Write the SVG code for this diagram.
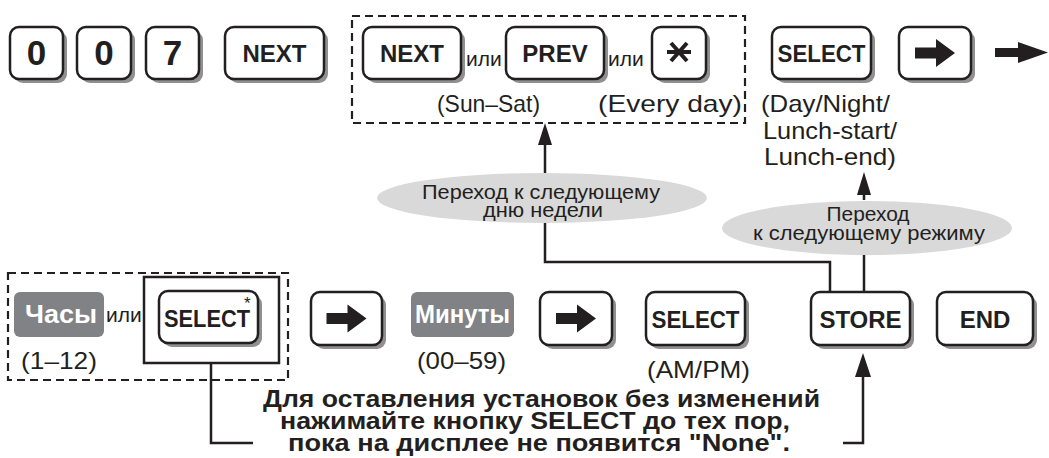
<svg xmlns="http://www.w3.org/2000/svg" width="1049" height="458" viewBox="0 0 1049 458">
<style>
.sh{fill:#909090}
.key{fill:#fff;stroke:#231f20;stroke-width:2.5}
.kt{font-family:"Liberation Sans",Arial,sans-serif;font-weight:bold;font-size:24px;fill:#231f20;text-anchor:middle}
.big{font-size:35px}
.lbl{font-family:"Liberation Sans",Arial,sans-serif;font-size:24px;fill:#231f20}
.ili{font-family:"Liberation Sans",Arial,sans-serif;font-size:21px;fill:#231f20}
.gbox{fill:#808285}
.gt{font-family:"Liberation Sans",Arial,sans-serif;font-weight:bold;font-size:25px;fill:#fff;text-anchor:middle}
.dash{fill:none;stroke:#231f20;stroke-width:2.2;stroke-dasharray:8 5}
.ln{fill:none;stroke:#231f20;stroke-width:2.5}
.ell{fill:#d9d9d9}
.et{font-family:"Liberation Sans",Arial,sans-serif;font-size:21px;fill:#231f20;text-anchor:middle}
.note{font-family:"Liberation Sans",Arial,sans-serif;font-weight:bold;font-size:24px;fill:#231f20;text-anchor:middle}
.ar{fill:#231f20}
</style>
<defs>
<g id="arrowIcon"><path class="ar" d="M-20,-5.5 H1 V-14 L20,0 L1,14 V5.5 H-20 Z"/></g>
</defs>

<!-- dashed grouping boxes -->
<g id="groups">
<rect class="dash" x="352" y="16" width="393" height="107"/>
<rect class="dash" x="8" y="273" width="280" height="107"/>
<rect class="ln" x="144" y="277" width="135" height="86"/>
</g>

<!-- connectors -->
<g id="connectors">
<path class="ln" d="M545,223 V262 H830 V292"/>
<path class="ln" d="M545,173 V140"/>
<path class="ar" d="M545,123 L538,145 L552,145 Z"/>
<path class="ln" d="M864,200 V190"/>
<path class="ar" d="M864,172 L857,195 L871,195 Z"/>
<path class="ln" d="M864,255 V292"/>
<path class="ln" d="M211,363 V443 H253"/>
<path class="ln" d="M843,443 H863 V372"/>
<path class="ar" d="M863,353 L855,377 L871,377 Z"/>
<path class="ar" d="M995,48 H1018 V42 L1048,52.5 L1018,63 V57 H995 Z"/>
</g>

<g id="k0a"><rect class="sh" x="14" y="31" width="53" height="52" rx="9"/><rect class="key" x="10" y="27" width="53" height="52" rx="9"/><text class="kt big" x="36.5" y="65">0</text></g>
<g id="k0b"><rect class="sh" x="81" y="31" width="54" height="52" rx="9"/><rect class="key" x="77" y="27" width="54" height="52" rx="9"/><text class="kt big" x="104" y="65">0</text></g>
<g id="k7"><rect class="sh" x="150" y="31" width="53" height="52" rx="9"/><rect class="key" x="146" y="27" width="53" height="52" rx="9"/><text class="kt big" x="172.5" y="65">7</text></g>
<g id="kNext1"><rect class="sh" x="229" y="31" width="99" height="52" rx="9"/><rect class="key" x="225" y="27" width="99" height="52" rx="9"/><text class="kt" x="274.5" y="62">NEXT</text></g>

<g id="kNext2"><rect class="sh" x="367" y="31" width="98" height="52" rx="9"/><rect class="key" x="363" y="27" width="98" height="52" rx="9"/><text class="kt" x="412" y="62">NEXT</text></g>
<text class="ili" x="466" y="66">или</text>
<g id="kPrev"><rect class="sh" x="510" y="31" width="98" height="52" rx="9"/><rect class="key" x="506" y="27" width="98" height="52" rx="9"/><text class="kt" x="555" y="62">PREV</text></g>
<text class="ili" x="608" y="66">или</text>
<g id="kStar"><rect class="sh" x="656" y="31" width="54" height="52" rx="9"/><rect class="key" x="652" y="27" width="54" height="52" rx="9"/>
<path d="M667,52 H691 M671,43 L687,61 M671,61 L687,43" stroke="#231f20" stroke-width="4" fill="none"/></g>
<text class="lbl" x="488.5" y="112" text-anchor="middle" textLength="103" lengthAdjust="spacingAndGlyphs">(Sun–Sat)</text>
<text class="lbl" x="670" y="112" text-anchor="middle" textLength="144" lengthAdjust="spacingAndGlyphs">(Every day)</text>

<g id="kSelect1"><rect class="sh" x="776" y="31" width="99" height="52" rx="9"/><rect class="key" x="772" y="27" width="99" height="52" rx="9"/><text class="kt" x="821.5" y="62" textLength="88" lengthAdjust="spacingAndGlyphs">SELECT</text></g>
<g id="kArrowTop"><rect class="sh" x="903" y="31" width="72" height="52" rx="9"/><rect class="key" x="899" y="27" width="72" height="52" rx="9"/><use href="#arrowIcon" x="935" y="53"/></g>
<g id="modeLabel">
<text class="lbl" x="761" y="112" textLength="129" lengthAdjust="spacingAndGlyphs">(Day/Night/</text>
<text class="lbl" x="830" y="138.5" text-anchor="middle" textLength="134" lengthAdjust="spacingAndGlyphs">Lunch-start/</text>
<text class="lbl" x="830" y="165" text-anchor="middle" textLength="132" lengthAdjust="spacingAndGlyphs">Lunch-end)</text>
</g>

<g id="ellDay"><ellipse class="ell" cx="542" cy="198" rx="165" ry="25"/><text class="et" x="541" y="199" textLength="238" lengthAdjust="spacingAndGlyphs">Переход к следующему</text><text class="et" x="543" y="217" textLength="120" lengthAdjust="spacingAndGlyphs">дню недели</text></g>
<g id="ellMode"><ellipse class="ell" cx="867" cy="228" rx="145" ry="27"/><text class="et" x="868" y="221" textLength="83" lengthAdjust="spacingAndGlyphs">Переход</text><text class="et" x="869" y="240" textLength="232" lengthAdjust="spacingAndGlyphs">к следующему режиму</text></g>

<g id="hours"><rect class="gbox" x="14" y="292" width="90" height="45" rx="6"/><text class="gt" x="61" y="323" textLength="72" lengthAdjust="spacingAndGlyphs">Часы</text></g>
<text class="ili" x="106" y="322">или</text>
<text class="lbl" x="21" y="369" textLength="76" lengthAdjust="spacingAndGlyphs">(1–12)</text>
<g id="kSelect2"><rect class="sh" x="163" y="295" width="99" height="52" rx="9"/><rect class="key" x="159" y="291" width="99" height="52" rx="9"/><text class="kt" x="207" y="327" textLength="86" lengthAdjust="spacingAndGlyphs">SELECT</text><text class="ili" x="244" y="309" style="font-size:17px">*</text></g>

<g id="kArrowB1"><rect class="sh" x="315" y="296" width="71" height="53" rx="9"/><rect class="key" x="311" y="292" width="71" height="53" rx="9"/><use href="#arrowIcon" x="346.5" y="318.5"/></g>
<g id="minutes"><rect class="gbox" x="411" y="292" width="103" height="45" rx="6"/><text class="gt" x="462.5" y="323" textLength="95" lengthAdjust="spacingAndGlyphs">Минуты</text></g>
<text class="lbl" x="461.5" y="369" text-anchor="middle" textLength="89" lengthAdjust="spacingAndGlyphs">(00–59)</text>
<g id="kArrowB2"><rect class="sh" x="544" y="296" width="72" height="53" rx="9"/><rect class="key" x="540" y="292" width="72" height="53" rx="9"/><use href="#arrowIcon" x="576" y="318.5"/></g>
<g id="kSelect3"><rect class="sh" x="650" y="296" width="99" height="53" rx="9"/><rect class="key" x="646" y="292" width="99" height="53" rx="9"/><text class="kt" x="695.5" y="328" textLength="88" lengthAdjust="spacingAndGlyphs">SELECT</text></g>
<text class="lbl" x="698.5" y="378" text-anchor="middle" textLength="103" lengthAdjust="spacingAndGlyphs">(AM/PM)</text>
<g id="kStore"><rect class="sh" x="815" y="296" width="99" height="53" rx="9"/><rect class="key" x="811" y="292" width="99" height="53" rx="9"/><text class="kt" x="860.5" y="328">STORE</text></g>
<g id="kEnd"><rect class="sh" x="941" y="296" width="96" height="53" rx="9"/><rect class="key" x="937" y="292" width="96" height="53" rx="9"/><text class="kt" x="985" y="328">END</text></g>

<g id="note">
<text class="note" x="541.5" y="407" textLength="557" lengthAdjust="spacingAndGlyphs">Для оставления установок без изменений</text>
<text class="note" x="535" y="429" textLength="510" lengthAdjust="spacingAndGlyphs">нажимайте кнопку SELECT до тех пор,</text>
<text class="note" x="539" y="451" textLength="502" lengthAdjust="spacingAndGlyphs">пока на дисплее не появится "None".</text>
</g>
</svg>
